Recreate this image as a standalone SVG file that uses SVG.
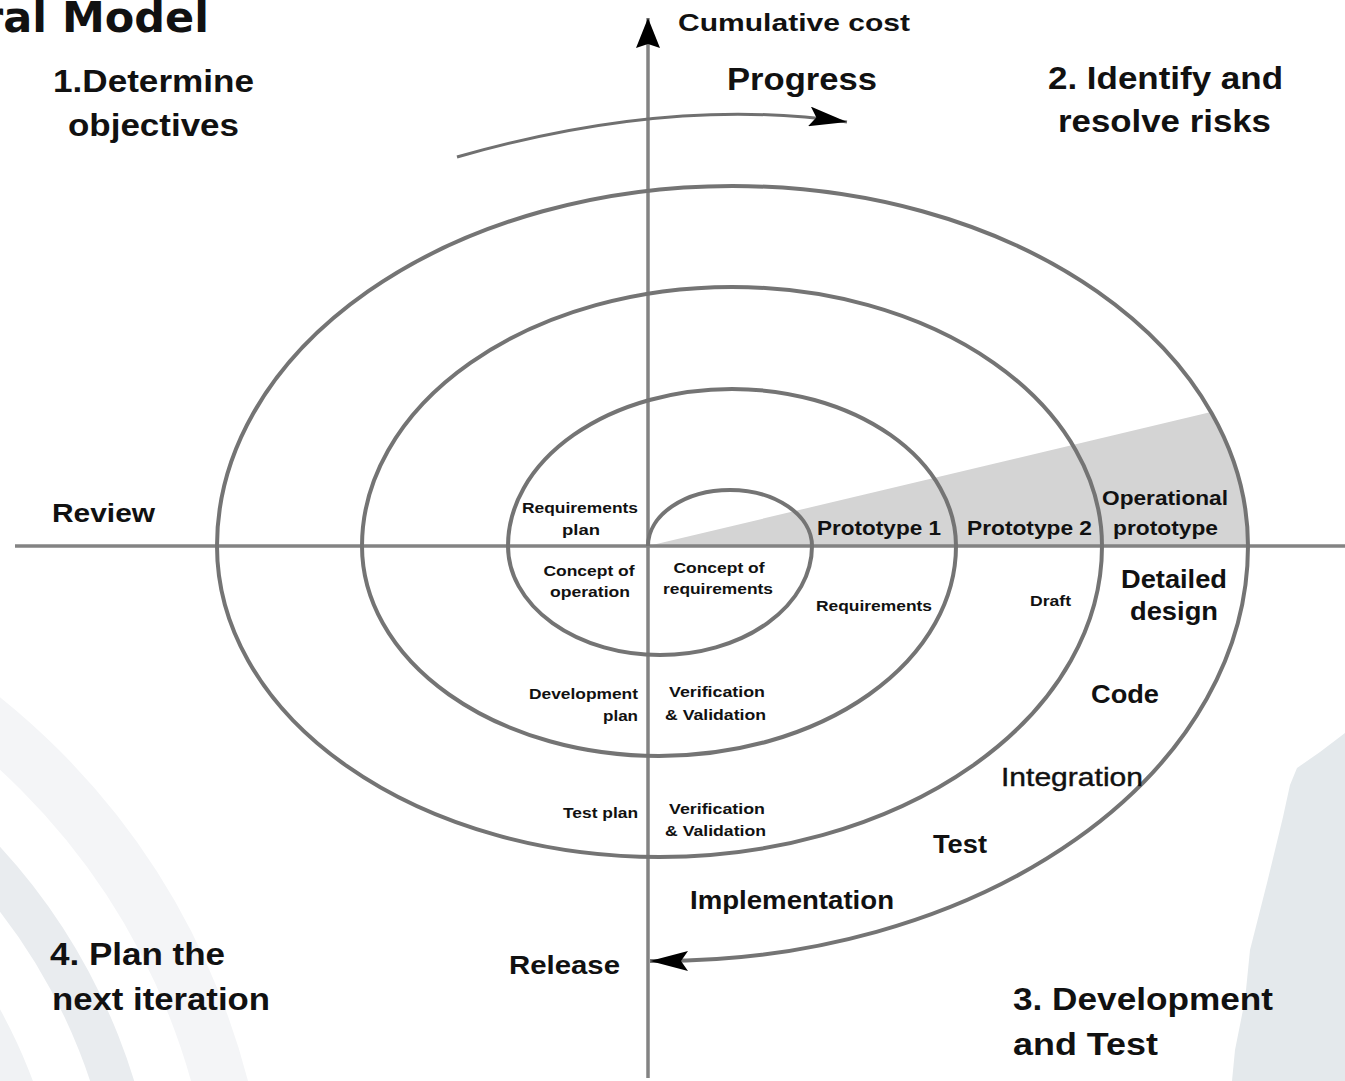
<svg xmlns="http://www.w3.org/2000/svg" width="1345" height="1081" viewBox="0 0 1345 1081">
<defs>
<style>
.t{font-family:"Liberation Sans",Arial,sans-serif;font-weight:bold;fill:#111;}
.big{font-size:31px;}
.mid{font-size:26px;}
.proto{font-size:21px;}
.sm{font-size:15px;}
.reg{font-weight:normal;}
.spiral{fill:none;stroke:#747474;stroke-width:4;}
.axis{fill:none;stroke:#838383;stroke-width:3.5;}
.arr{fill:none;stroke:#707070;stroke-width:3;}
</style>
<marker id="ah" viewBox="0 0 38 20" markerWidth="38" markerHeight="20" markerUnits="userSpaceOnUse" refX="38" refY="10" orient="auto">
<path d="M0,0 L38,10 L0,20 L7,10 z" fill="#000"/>
</marker>
<marker id="ahv" viewBox="0 0 30 24" markerWidth="30" markerHeight="24" markerUnits="userSpaceOnUse" refX="30" refY="12" orient="auto">
<path d="M0,0 L30,12 L0,24 L4,12 z" fill="#000"/>
</marker>
</defs>
<rect width="1345" height="1081" fill="#fff"/>
<g id="background">
<circle cx="-450" cy="1260" r="693" fill="none" stroke="#f4f5f7" stroke-width="55"/>
<circle cx="-450" cy="1260" r="590" fill="none" stroke="#e9ecef" stroke-width="42"/>
<circle cx="-450" cy="1260" r="495" fill="none" stroke="#f0f2f4" stroke-width="40"/>
<polygon points="1345,733 1320,752 1297,768 1290,785 1283,817 1267,883 1250,950 1245,1000 1235,1050 1232,1081 1345,1081" fill="#e4e9ec"/>
</g>
<text class="t" x="209" y="32" text-anchor="end" style="font-family:'DejaVu Sans',sans-serif;font-size:43px">Spiral Model</text>
<g id="wedge">
<path d="M648,546 L1211,412 A515.5,360 0 0,1 1248,546 Z" fill="#d4d4d4"/>
</g>
<g id="connectors">
<path class="axis" d="M15,546 L1345,546"/>
<path class="axis" d="M648,1078 L648,18" marker-end="url(#ahv)"/>
<path class="spiral" d="M648,546 A82,56 0 0,1 812,546 A152,109 0 0,1 508,546 A224,157 0 0,1 956,546 A297,210 0 0,1 362,546 A370,259 0 0,1 1102,546 A442.5,311 0 0,1 217,546 A515.5,360 0 0,1 1248,546 A588,415 0 0,1 660,961 L650,961" marker-end="url(#ah)"/>
<path class="arr" d="M457,157 Q670,96 847,122" marker-end="url(#ah)"/>
</g>
<g id="quadrant1">
<text class="t big" x="53" y="92" textLength="201" lengthAdjust="spacingAndGlyphs">1.Determine</text>
<text class="t big" x="68" y="136" textLength="171" lengthAdjust="spacingAndGlyphs">objectives</text>
</g>
<g id="quadrant2">
<text class="t big" x="1048" y="89" textLength="235" lengthAdjust="spacingAndGlyphs">2. Identify and</text>
<text class="t big" x="1058" y="132" textLength="213" lengthAdjust="spacingAndGlyphs">resolve risks</text>
</g>
<g id="quadrant3">
<text class="t big" x="1013" y="1010" textLength="260" lengthAdjust="spacingAndGlyphs">3. Development</text>
<text class="t big" x="1013" y="1055" textLength="145" lengthAdjust="spacingAndGlyphs">and Test</text>
</g>
<g id="quadrant4">
<text class="t big" x="50" y="965" textLength="175" lengthAdjust="spacingAndGlyphs">4. Plan the</text>
<text class="t big" x="52" y="1010" textLength="218" lengthAdjust="spacingAndGlyphs">next iteration</text>
</g>
<g id="cumulative-cost">
<text class="t" x="678" y="31" style="font-size:24px" textLength="232" lengthAdjust="spacingAndGlyphs">Cumulative cost</text>
</g>
<g id="progress">
<text class="t" x="727" y="90" style="font-size:31px" textLength="150" lengthAdjust="spacingAndGlyphs">Progress</text>
</g>
<g id="review">
<text class="t mid" x="52" y="522" textLength="103" lengthAdjust="spacingAndGlyphs">Review</text>
</g>
<g id="release">
<text class="t mid" x="509" y="974" textLength="111" lengthAdjust="spacingAndGlyphs">Release</text>
</g>
<g id="requirements-plan">
<text class="t sm" x="580" y="513" text-anchor="middle" textLength="116" lengthAdjust="spacingAndGlyphs">Requirements</text>
<text class="t sm" x="581" y="535" text-anchor="middle" textLength="38" lengthAdjust="spacingAndGlyphs">plan</text>
</g>
<g id="concept-of-operation">
<text class="t sm" x="589" y="576" text-anchor="middle" textLength="91" lengthAdjust="spacingAndGlyphs">Concept of</text>
<text class="t sm" x="590" y="597" text-anchor="middle" textLength="80" lengthAdjust="spacingAndGlyphs">operation</text>
</g>
<g id="concept-of-requirements">
<text class="t sm" x="719" y="573" text-anchor="middle" textLength="91" lengthAdjust="spacingAndGlyphs">Concept of</text>
<text class="t sm" x="718" y="594" text-anchor="middle" textLength="110" lengthAdjust="spacingAndGlyphs">requirements</text>
</g>
<g id="prototype1">
<text class="t proto" x="817" y="535" textLength="124" lengthAdjust="spacingAndGlyphs">Prototype 1</text>
</g>
<g id="prototype2">
<text class="t proto" x="967" y="535" textLength="125" lengthAdjust="spacingAndGlyphs">Prototype 2</text>
</g>
<g id="operational-prototype">
<text class="t proto" x="1102" y="505" textLength="126" lengthAdjust="spacingAndGlyphs">Operational</text>
<text class="t proto" x="1113" y="535" textLength="105" lengthAdjust="spacingAndGlyphs">prototype</text>
</g>
<g id="requirements">
<text class="t sm" x="816" y="611" textLength="116" lengthAdjust="spacingAndGlyphs">Requirements</text>
</g>
<g id="draft">
<text class="t" x="1030" y="606" style="font-size:14px" textLength="41" lengthAdjust="spacingAndGlyphs">Draft</text>
</g>
<g id="detailed-design">
<text class="t mid" x="1121" y="588" textLength="106" lengthAdjust="spacingAndGlyphs">Detailed</text>
<text class="t mid" x="1130" y="620" textLength="88" lengthAdjust="spacingAndGlyphs">design</text>
</g>
<g id="code">
<text class="t mid" x="1091" y="703" textLength="68" lengthAdjust="spacingAndGlyphs">Code</text>
</g>
<g id="integration">
<text class="t mid reg" x="1001" y="786" textLength="142" lengthAdjust="spacingAndGlyphs" style="stroke:#111;stroke-width:0.4">Integration</text>
</g>
<g id="test">
<text class="t mid" x="933" y="853" textLength="54" lengthAdjust="spacingAndGlyphs">Test</text>
</g>
<g id="implementation">
<text class="t mid" x="690" y="909" textLength="204" lengthAdjust="spacingAndGlyphs">Implementation</text>
</g>
<g id="development-plan">
<text class="t sm" x="638" y="699" text-anchor="end" textLength="109" lengthAdjust="spacingAndGlyphs">Development</text>
<text class="t sm" x="638" y="721" text-anchor="end" textLength="35" lengthAdjust="spacingAndGlyphs">plan</text>
</g>
<g id="vv1">
<text class="t sm" x="669" y="697" textLength="96" lengthAdjust="spacingAndGlyphs">Verification</text>
<text class="t sm" x="665" y="720" textLength="101" lengthAdjust="spacingAndGlyphs">&amp; Validation</text>
</g>
<g id="test-plan">
<text class="t sm" x="638" y="818" text-anchor="end" textLength="75" lengthAdjust="spacingAndGlyphs">Test plan</text>
</g>
<g id="vv2">
<text class="t sm" x="669" y="814" textLength="96" lengthAdjust="spacingAndGlyphs">Verification</text>
<text class="t sm" x="665" y="836" textLength="101" lengthAdjust="spacingAndGlyphs">&amp; Validation</text>
</g>
</svg>
